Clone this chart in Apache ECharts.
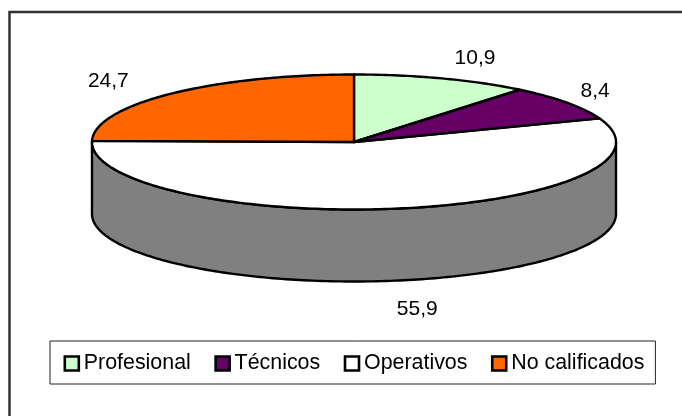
<!DOCTYPE html>
<html>
<head>
<meta charset="utf-8">
<style>html,body{margin:0;padding:0;background:#fff}#c{width:682px;height:416px}</style>
<script src="https://cdn.jsdelivr.net/npm/echarts@6/dist/echarts.min.js"></script>
</head>
<body>
<div id="c"></div>
<script>
var categories = ['Profesional', 'Técnicos', 'Operativos', 'No calificados'];
var shares = [10.9, 8.4, 55.9, 24.7];
var colors = ['#CCFFCC', '#660066', '#FFFFFF', '#FF6600'];
var wallColor = '#808080';
var labelOffsets = [[33, -20], [28, -12], [19, 29], [-62, -13]];

var FONT = '"Liberation Sans", Arial, sans-serif';
var CX = 354, CY = 142, RX = 262, RY = 67.5, DEPTH = 72;
var total = shares.reduce(function (a, b) { return a + b; }, 0);

function rim(deg, dy) {
  var t = deg * Math.PI / 180;
  return [CX + RX * Math.sin(t), CY - RY * Math.cos(t) + (dy || 0)];
}
function arc(from, to, dy) {
  var pts = [], n = Math.max(2, Math.ceil(Math.abs(to - from)));
  for (var i = 0; i <= n; i++) pts.push(rim(from + (to - from) * i / n, dy));
  return pts;
}

var chart = echarts.init(document.getElementById('c'), null, { renderer: 'canvas' });

var series = categories.map(function (name, idx) {
  var before = shares.slice(0, idx).reduce(function (a, b) { return a + b; }, 0);
  return {
    name: name,
    type: 'custom',
    coordinateSystem: 'none',
    silent: true,
    z: idx === 2 ? 1 : 2,
    itemStyle: { color: colors[idx] },
    data: [{ name: name, value: [shares[idx]] }],
    renderItem: function (params, api) {
      var v = api.value(0);
      var a0 = before / total * 360, a1 = (before + v) / total * 360;
      var mid = (a0 + a1) / 2;
      var children = [];
      var line = { stroke: '#000', lineWidth: 2.4, lineJoin: 'round' };
      var isFront = a0 < 180 && a1 > 180 && a1 - a0 > 180;
      if (isFront) {
        var wallFrom = Math.max(a0, 90), wallTo = Math.min(a1, 270);
        var wall = arc(wallFrom, wallTo, 0).concat(arc(wallTo, wallFrom, DEPTH));
        children.push({
          type: 'polygon',
          shape: { points: wall },
          style: Object.assign({ fill: wallColor }, line)
        });
      }
      children.push({
        type: 'polygon',
        shape: { points: [[CX, CY]].concat(arc(a0, a1, 0)) },
        style: Object.assign({ fill: colors[idx] }, line)
      });
      var anchor = rim(mid, isFront ? DEPTH : 0);
      children.push({
        type: 'text',
        style: {
          x: anchor[0] + labelOffsets[idx][0],
          y: anchor[1] + labelOffsets[idx][1],
          text: v.toFixed(1).replace('.', ','),
          font: '21px ' + FONT,
          fill: '#000',
          align: 'center',
          verticalAlign: 'middle'
        }
      });
      return { type: 'group', children: children };
    }
  };
});

chart.setOption({
  animation: false,
  backgroundColor: '#fff',
  graphic: [{
    type: 'rect',
    silent: true,
    z: 0,
    shape: { x: 9.5, y: 12, width: 700, height: 440 },
    style: { fill: 'transparent', stroke: '#333', lineWidth: 2.5 }
  }],
  legend: {
    left: 50,
    top: 341,
    padding: [12, 11, 10, 13.5],
    itemWidth: 14,
    itemHeight: 14,
    itemGap: 23.5,
    icon: 'rect',
    selectedMode: false,
    backgroundColor: '#fff',
    borderColor: '#222',
    borderWidth: 1,
    textStyle: { fontFamily: FONT, fontSize: 21.4, color: '#000', padding: 0, lineHeight: 18 },
    data: categories.map(function (n, i) {
      return { name: n, itemStyle: { color: colors[i], borderColor: '#000', borderWidth: 2.6 } };
    })
  },
  series: series
});
</script>
</body>
</html>
